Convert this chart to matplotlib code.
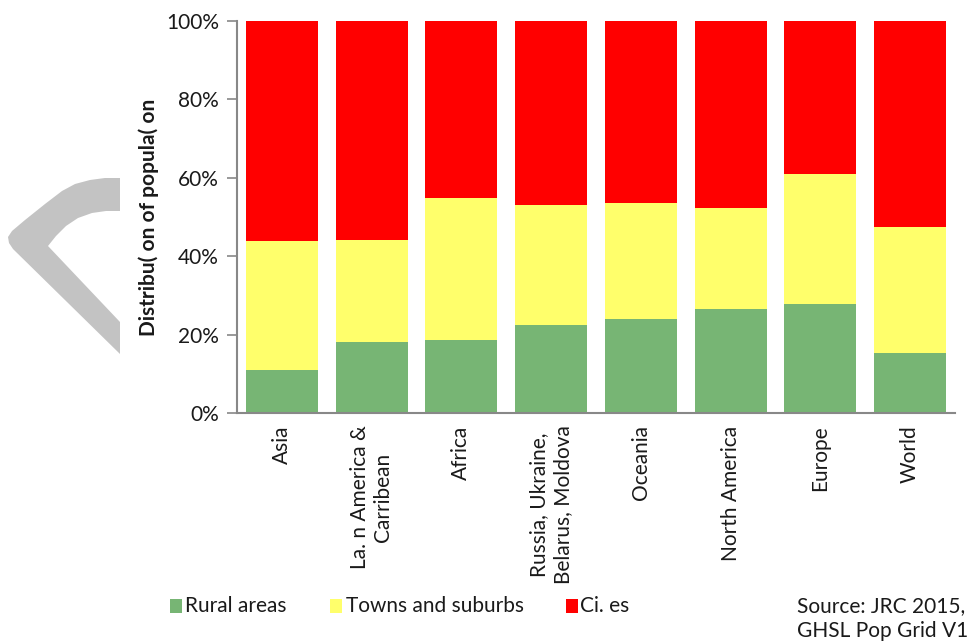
import matplotlib
matplotlib.use("Agg")
import matplotlib.pyplot as plt
from matplotlib.patches import Polygon, Rectangle
import numpy as np

categories = ["Asia", "La. n America &\nCarribean", "Africa",
              "Russia, Ukraine,\nBelarus, Moldova", "Oceania",
              "North America", "Europe", "World"]
rural = [11.0, 18.1, 18.6, 22.4, 24.0, 26.5, 27.8, 15.3]
towns = [32.9, 26.0, 36.2, 30.7, 29.6, 25.8, 33.2, 32.1]
cities = [56.1, 55.9, 45.2, 46.9, 46.4, 47.7, 39.0, 52.6]
series_names = ["Rural areas", "Towns and suburbs", "Ci. es"]
colors = ["#77B574", "#FFFF6B", "#FF0000"]
yticks = [0, 20, 40, 60, 80, 100]

FONT = ["Lato", "DejaVu Sans"]
plt.rcParams['font.family'] = FONT
FS = 15

W, H = 967, 641
fig = plt.figure(figsize=(W / 100, H / 100), dpi=100)

def fx(x):
    return x / W

def fy(y):
    return 1 - y / H

ax = fig.add_axes([fx(237), fy(413), fx(955) - fx(237), fy(21) - fy(413)])

x = np.arange(len(categories))
r = np.array(rural)
t = np.array(towns)
c = np.array(cities)
ax.bar(x, r, width=0.8, color=colors[0], label=series_names[0])
ax.bar(x, t, width=0.8, bottom=r, color=colors[1], label=series_names[1])
ax.bar(x, c, width=0.8, bottom=r + t, color=colors[2], label=series_names[2])

ax.set_xlim(-0.5, len(categories) - 0.5)
ax.set_ylim(0, 100)
ax.set_yticks(yticks)
ax.set_yticklabels([f"{v}%" for v in yticks], fontsize=FS, color="#1a1a1a")
ax.set_xticks(x)
ax.set_xticklabels(categories, rotation=90, fontsize=FS, ha="center",
                   va="top", multialignment="center", color="#1a1a1a")
ax.tick_params(axis="x", length=0, pad=9)
ax.tick_params(axis="y", length=7, width=1.2, color="#888888", pad=6)
for s in ["top", "right"]:
    ax.spines[s].set_visible(False)
for s in ["left", "bottom"]:
    ax.spines[s].set_color("#888888")
    ax.spines[s].set_linewidth(1.5)
ax.set_ylabel("Distribu( on of popula( on", fontsize=FS, fontweight="bold",
              labelpad=5, color="#1a1a1a")

# gray chevron decoration
outer = [(120, 178), (105, 178), (90, 180), (75, 184), (62, 191), (45, 204),
         (25, 220), (12, 231), (8, 237), (9, 243), (13, 249), (120, 354)]
inner = [(120, 322), (48, 246), (56, 236), (66, 226), (78, 218), (92, 213),
         (106, 211), (120, 211)]
pts = [(fx(px), fy(py)) for px, py in outer + inner]
fig.patches.append(Polygon(pts, closed=True, transform=fig.transFigure,
                           facecolor="#C3C3C3", edgecolor="none"))

# legend
leg_items = [(170, 185, series_names[0], colors[0]),
             (330, 346, series_names[1], colors[1]),
             (566, 580, series_names[2], colors[2])]
for sx, tx, name, col in leg_items:
    fig.patches.append(Rectangle((fx(sx), fy(613)), fx(12), fy(599) - fy(613),
                                 transform=fig.transFigure, facecolor=col,
                                 edgecolor="none"))
    fig.text(fx(tx), fy(606), name, fontsize=FS, va="center", ha="left",
             color="#1a1a1a")

fig.text(fx(797), fy(606), "Source: JRC 2015,", fontsize=FS, va="center",
         ha="left", color="#1a1a1a")
fig.text(fx(797), fy(631), "GHSL Pop Grid V1", fontsize=FS, va="center",
         ha="left", color="#1a1a1a")

fig.savefig("out.png", dpi=100)
